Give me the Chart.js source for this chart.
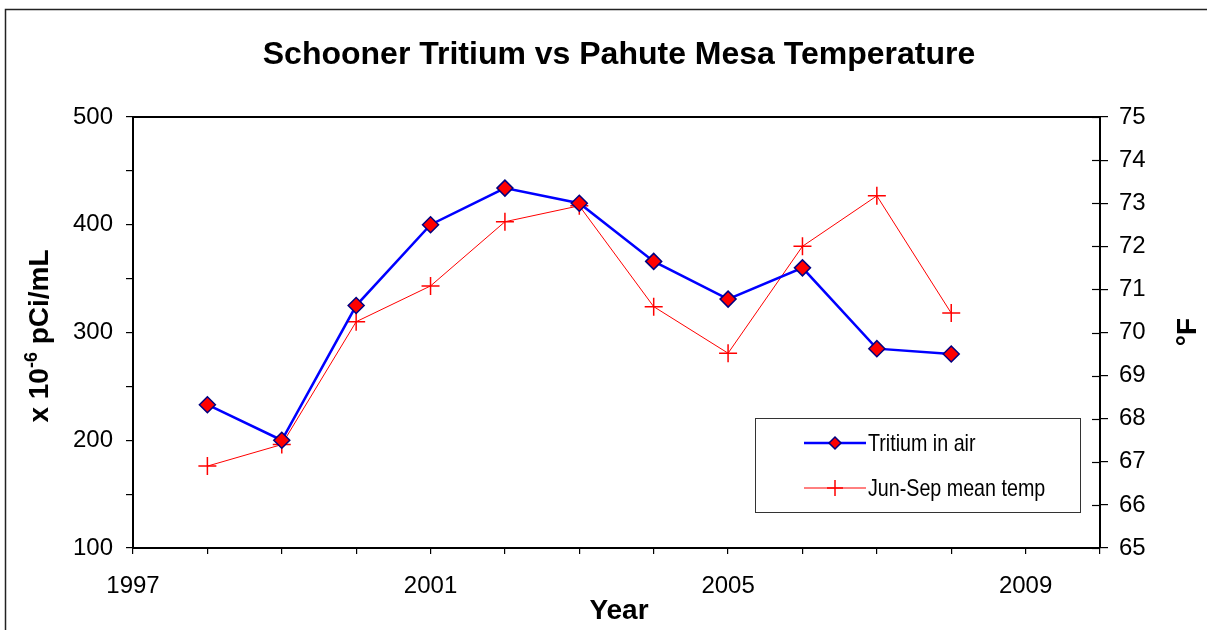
<!DOCTYPE html>
<html>
<head>
<meta charset="utf-8">
<script src="https://cdn.jsdelivr.net/npm/chart.js@4"></script>
<style>
  html, body { margin: 0; padding: 0; background: #fff; }
  #wrap { width: 1207px; height: 630px; }
</style>
</head>
<body>
<div id="wrap"><canvas id="chart" width="1207" height="630"></canvas></div>
<script>
// ---------- Data ----------
const years = [1998, 1999, 2000, 2001, 2002, 2003, 2004, 2005, 2006, 2007, 2008];
const tritium = [233, 200, 325, 400, 434, 420, 366, 331, 360, 285, 280];
const meanTemp = [66.9, 67.4, 70.25, 71.08, 72.57, 72.94, 70.6, 69.52, 72.0, 73.17, 70.45];
const seriesNames = ['Tritium in air', 'Jun-Sep mean temp'];
const chartTitle = 'Schooner Tritium vs Pahute Mesa Temperature';
const xTitle = 'Year';
const yTitle = ['x 10', '-6', ' pCi/mL'];
const y2Title = '\u00B0F';

const FONT = "'Liberation Sans', Arial, sans-serif";

// ---------- Plugins ----------
const decor = {
  id: 'decor',
  beforeDraw(chart) {
    const ctx = chart.ctx;
    ctx.save();
    ctx.fillStyle = '#fff';
    ctx.fillRect(0, 0, chart.width, chart.height);
    // outer frame (left + top)
    ctx.strokeStyle = '#222';
    ctx.lineWidth = 1.5;
    ctx.beginPath();
    ctx.moveTo(5.5, chart.height);
    ctx.lineTo(5.5, 9.5);
    ctx.lineTo(chart.width, 9.5);
    ctx.stroke();
    ctx.restore();
  },
  afterDraw(chart) {
    const ctx = chart.ctx;
    const a = chart.chartArea;
    ctx.save();
    // top border of plot box
    ctx.strokeStyle = '#000';
    ctx.lineWidth = 2;
    ctx.beginPath();
    ctx.moveTo(a.left, a.top);
    ctx.lineTo(a.right, a.top);
    ctx.stroke();

    // inward half of right axis ticks
    const y2 = chart.scales.y2;
    ctx.lineWidth = 1.2;
    y2.ticks.forEach(t => {
      const py = Math.round(y2.getPixelForValue(t.value)) + 0.5;
      ctx.beginPath();
      ctx.moveTo(a.right - 8, py);
      ctx.lineTo(a.right, py);
      ctx.stroke();
    });

    // titles
    ctx.fillStyle = '#000';
    ctx.textAlign = 'center';
    ctx.textBaseline = 'alphabetic';
    ctx.font = 'bold 32px ' + FONT;
    ctx.fillText(chartTitle, 619, 64);
    ctx.font = 'bold 28px ' + FONT;
    ctx.fillText(xTitle, 619, 619);

    // left axis title with superscript
    ctx.save();
    ctx.translate(48, 336);
    ctx.rotate(-Math.PI / 2);
    ctx.font = 'bold 28px ' + FONT;
    const w0 = ctx.measureText(yTitle[0]).width;
    const w2 = ctx.measureText(yTitle[2]).width;
    ctx.font = 'bold 18px ' + FONT;
    const w1 = ctx.measureText(yTitle[1]).width;
    let x = -(w0 + w1 + w2) / 2;
    ctx.textAlign = 'left';
    ctx.font = 'bold 28px ' + FONT;
    ctx.fillText(yTitle[0], x, 0);
    x += w0;
    ctx.font = 'bold 18px ' + FONT;
    ctx.fillText(yTitle[1], x, -11);
    x += w1;
    ctx.font = 'bold 28px ' + FONT;
    ctx.fillText(yTitle[2], x, 0);
    ctx.restore();

    // right axis title
    ctx.save();
    ctx.translate(1196, 332);
    ctx.rotate(-Math.PI / 2);
    ctx.font = 'bold 28px ' + FONT;
    ctx.textAlign = 'center';
    ctx.fillText(y2Title, 0, 0);
    ctx.restore();

    // legend box
    const lx = 755, ly = 418, lw = 325, lh = 94;
    ctx.strokeStyle = '#333';
    ctx.lineWidth = 1;
    ctx.strokeRect(lx + 0.5, ly + 0.5, lw, lh);
    const rows = [443, 488];
    chart.data.datasets.forEach((ds, i) => {
      const ry = rows[i];
      ctx.strokeStyle = ds.borderColor;
      ctx.lineWidth = ds.borderWidth;
      ctx.beginPath();
      ctx.moveTo(804, ry);
      ctx.lineTo(866, ry);
      ctx.stroke();
      ctx.fillStyle = ds.pointBackgroundColor;
      ctx.strokeStyle = ds.pointBorderColor;
      ctx.lineWidth = ds.pointBorderWidth;
      ctx.beginPath();
      if (i === 0) {
        ctx.moveTo(835 - 6, ry); ctx.lineTo(835, ry - 6); ctx.lineTo(835 + 6, ry); ctx.lineTo(835, ry + 6);
        ctx.closePath(); ctx.fill(); ctx.stroke();
      } else {
        ctx.moveTo(835, ry - 8); ctx.lineTo(835, ry + 8);
        ctx.moveTo(827, ry); ctx.lineTo(843, ry);
        ctx.stroke();
      }
      ctx.save();
      ctx.translate(868, ry);
      ctx.scale(0.82, 1);
      ctx.fillStyle = '#000';
      ctx.textAlign = 'left';
      ctx.textBaseline = 'middle';
      ctx.font = '24px ' + FONT;
      ctx.fillText(ds.label, 0, 1);
      ctx.restore();
    });
    ctx.restore();
  }
};

// ---------- Chart ----------
const axisGrid = { drawOnChartArea: false, color: '#000', lineWidth: 1.2, tickLength: 7 };
const axisBorder = { color: '#000', width: 2 };
const tickFont = { family: FONT, size: 24 };

new Chart(document.getElementById('chart'), {
  type: 'line',
  data: {
    datasets: [
      {
        label: seriesNames[0],
        data: years.map((y, i) => ({ x: y, y: tritium[i] })),
        yAxisID: 'y',
        borderColor: '#0000ff',
        borderWidth: 2.5,
        pointStyle: 'rectRot',
        pointRadius: 8,
        pointBackgroundColor: '#ff0000',
        pointBorderColor: '#000080',
        pointBorderWidth: 1.5,
        tension: 0,
      },
      {
        label: seriesNames[1],
        data: years.map((y, i) => ({ x: y, y: meanTemp[i] })),
        yAxisID: 'y2',
        borderColor: '#ff0000',
        borderWidth: 1,
        pointStyle: 'cross',
        pointRadius: 9,
        pointBackgroundColor: '#ff0000',
        pointBorderColor: '#ff0000',
        pointBorderWidth: 1.5,
        tension: 0,
      }
    ]
  },
  options: {
    responsive: false,
    animation: false,
    layout: { padding: { top: 117, left: 0, right: 0, bottom: 0 } },
    plugins: { legend: { display: false }, title: { display: false }, tooltip: { enabled: false } },
    scales: {
      x: {
        type: 'linear',
        min: 1997, max: 2010,
        grid: { ...axisGrid, tickLength: 6 },
        border: axisBorder,
        ticks: {
          stepSize: 1, color: '#000', font: tickFont, padding: 18, maxRotation: 0, autoSkip: false,
          callback: v => ((v - 1997) % 4 === 0 ? String(v) : '')
        },
        afterFit: s => { s.height = 82; }
      },
      y: {
        position: 'left',
        min: 100, max: 500,
        grid: axisGrid,
        border: axisBorder,
        ticks: {
          stepSize: 50, color: '#000', font: tickFont, padding: 13, autoSkip: false,
          callback: v => (v % 100 === 0 ? String(v) : '')
        },
        afterFit: s => { s.width = 133; }
      },
      y2: {
        position: 'right',
        min: 65, max: 75,
        grid: { ...axisGrid, tickLength: 8 },
        border: axisBorder,
        ticks: { stepSize: 1, color: '#000', font: tickFont, padding: 11, autoSkip: false, callback: v => String(v) },
        afterFit: s => { s.width = 107; }
      }
    }
  },
  plugins: [decor]
});
</script>
</body>
</html>
